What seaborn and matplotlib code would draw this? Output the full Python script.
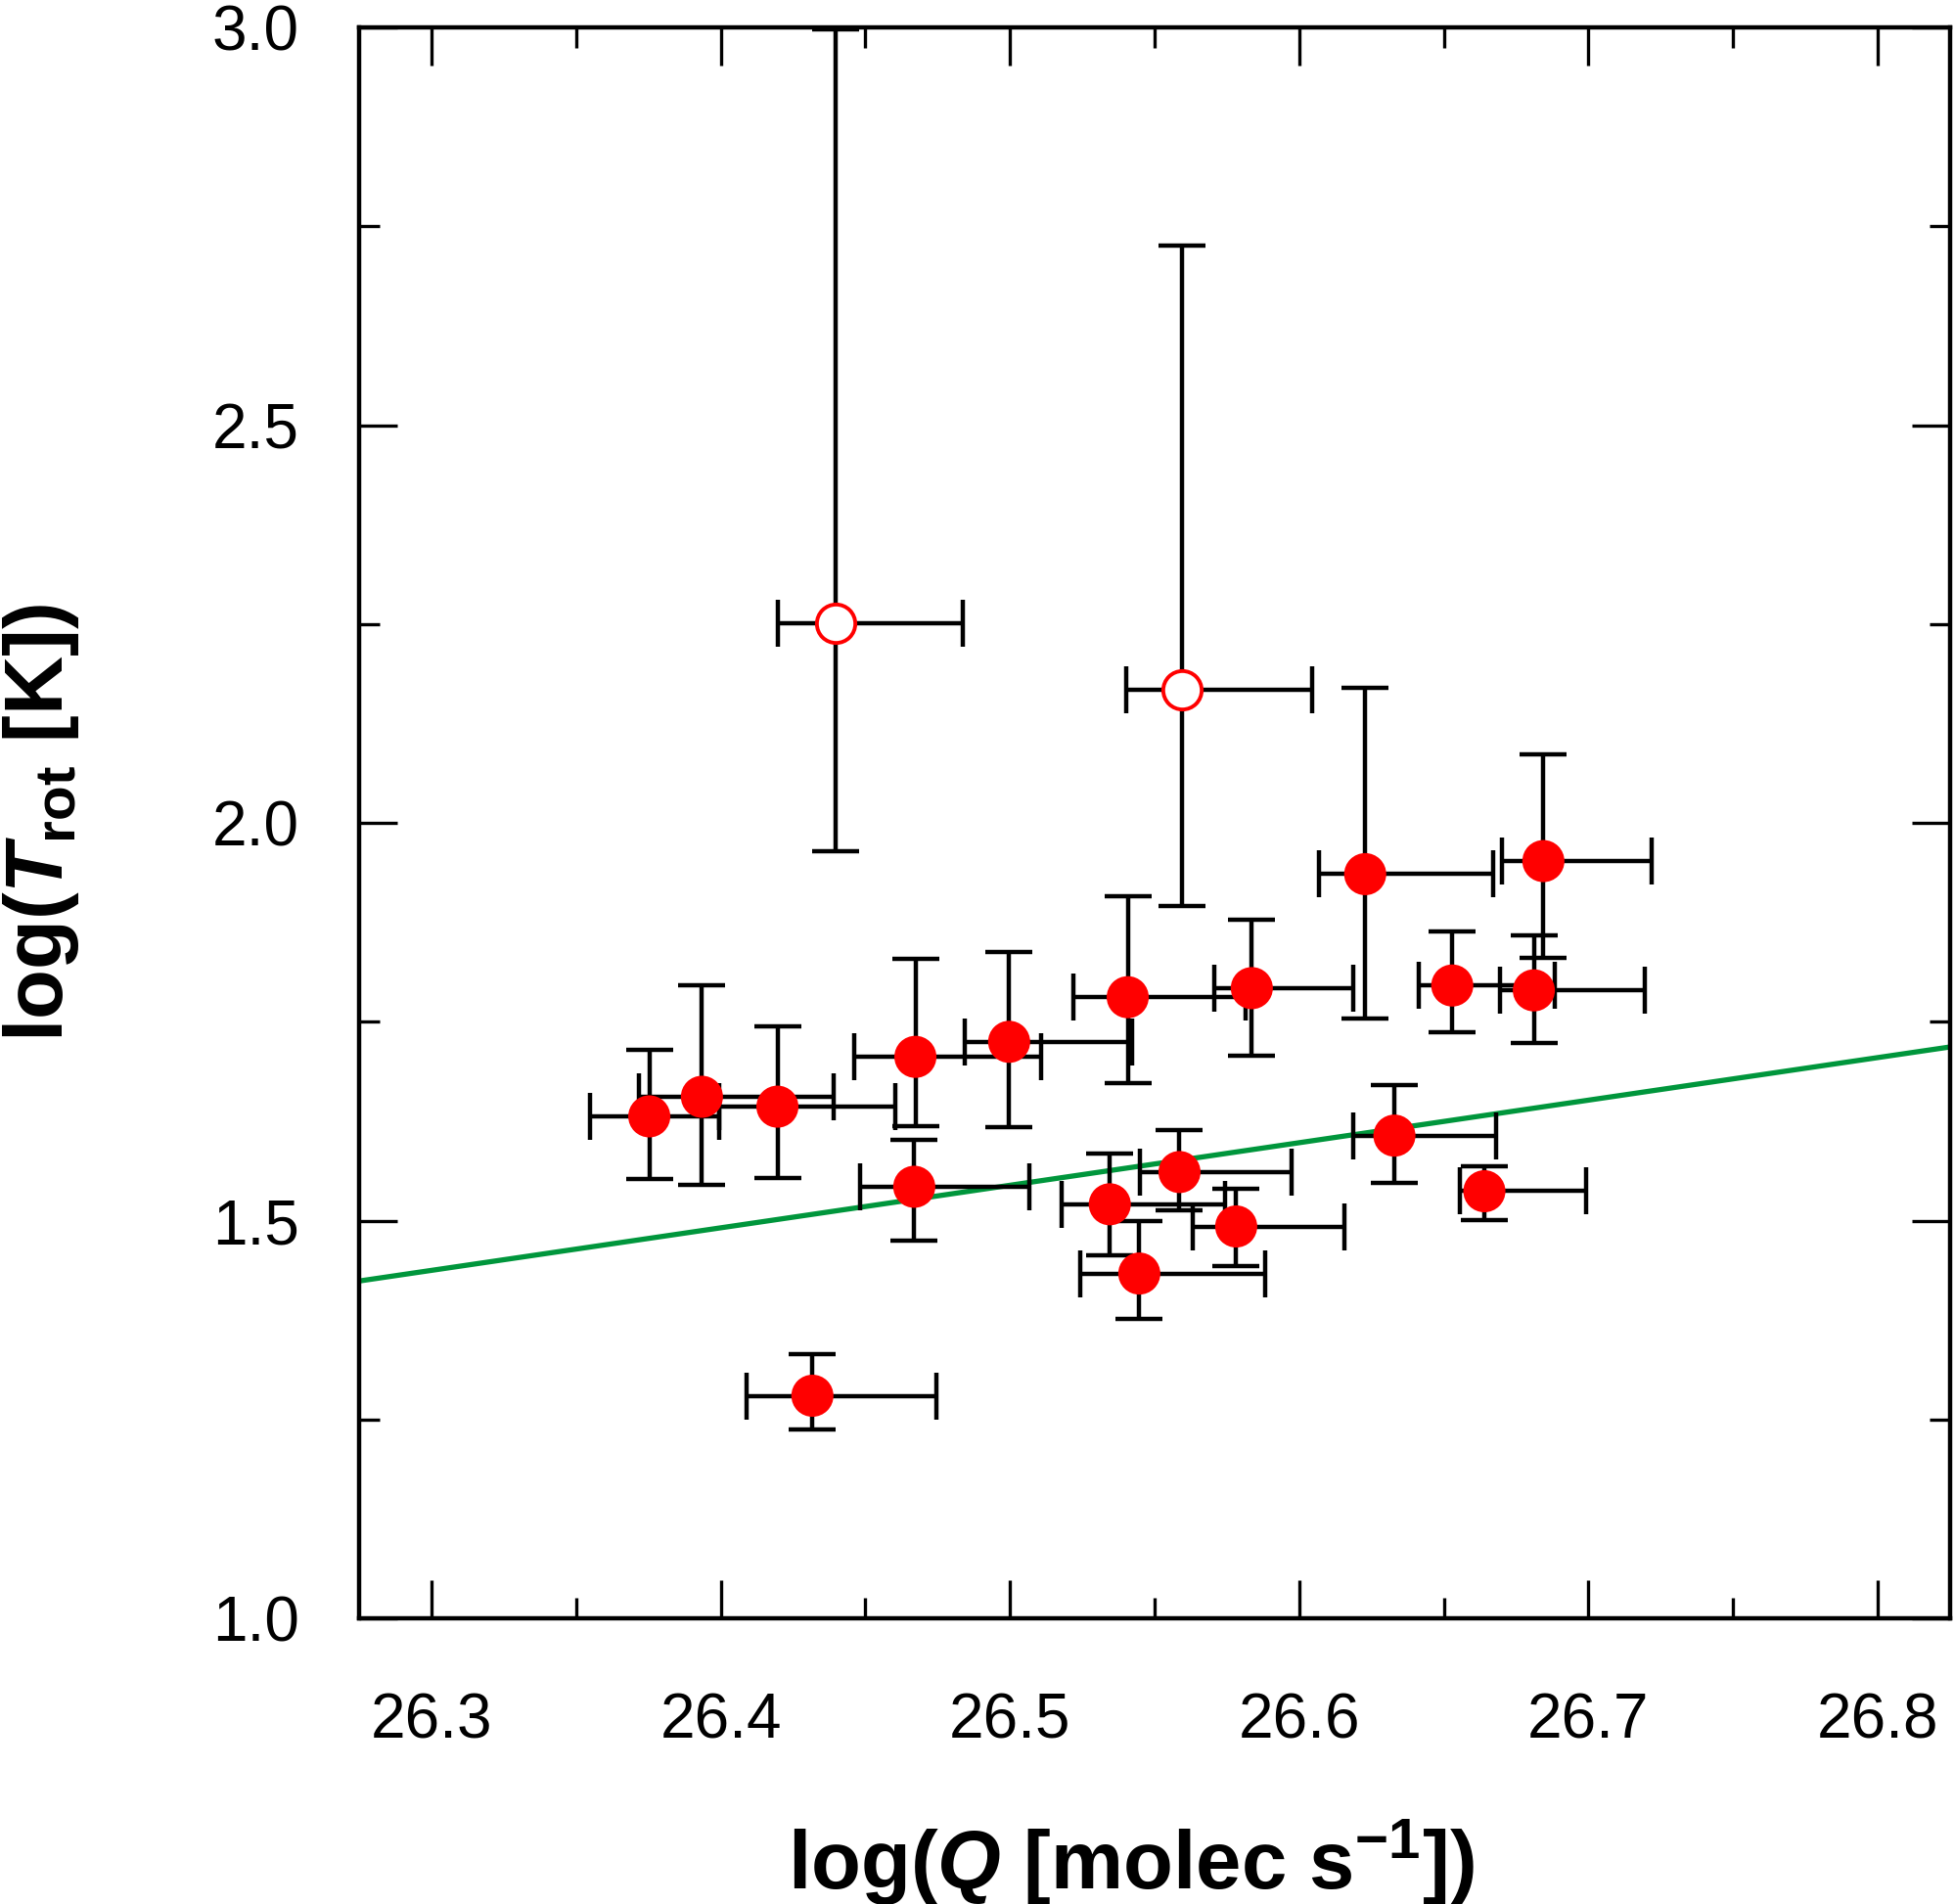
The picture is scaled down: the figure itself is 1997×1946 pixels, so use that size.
import numpy as np
import pandas as pd
import matplotlib
matplotlib.use("Agg")
import matplotlib.pyplot as plt
from matplotlib.ticker import MultipleLocator
import seaborn as sns

# ---- data ----
x_filled = [26.6228, 26.6844, 26.6529, 26.6811, 26.5836, 26.5407, 26.4997, 26.4673, 26.4196, 26.3935,
            26.3753, 26.4669, 26.5345, 26.5586, 26.5782, 26.5447, 26.6329, 26.6640, 26.4317]
x_filled_lo = [26.6069, 26.6702, 26.6414, 26.6693, 26.5705, 26.5218, 26.4845, 26.4463, 26.3995, 26.3716,
               26.3547, 26.4483, 26.5177, 26.5450, 26.5633, 26.5244, 26.6186, 26.6554, 26.4091]
x_filled_hi = [26.6670, 26.7219, 26.6882, 26.7196, 26.6188, 26.5816, 26.5421, 26.5106, 26.4602, 26.4392,
               26.3993, 26.5068, 26.5745, 26.5973, 26.6157, 26.5883, 26.6681, 26.6992, 26.4747]
y_filled = [1.9356, 1.9520, 1.7956, 1.7895, 1.7923, 1.7809, 1.7248, 1.7059, 1.6433, 1.6557,
            1.6311, 1.5426, 1.5206, 1.5611, 1.4927, 1.4335, 1.6069, 1.5370, 1.2799]
y_filled_lo = [1.7539, 1.8303, 1.7367, 1.7231, 1.7073, 1.6729, 1.6175, 1.6188, 1.5537, 1.5451,
               1.5529, 1.4752, 1.4567, 1.5124, 1.4433, 1.3761, 1.5479, 1.5009, 1.2369]
y_filled_hi = [2.1704, 2.0860, 1.8632, 1.8590, 1.8788, 1.9077, 1.8374, 1.8295, 1.7440, 1.7956,
               1.7146, 1.6016, 1.5845, 1.6139, 1.5403, 1.4996, 1.6708, 1.5684, 1.3327]

x_open = [26.4398, 26.5595]
x_open_lo = [26.4198, 26.5401]
x_open_hi = [26.4838, 26.6046]
y_open = [2.2511, 2.1668]
y_open_lo = [1.9650, 1.8952]
y_open_hi = [2.9970, 2.7256]

fit_slope = 0.535
fit_intercept = -12.633

xlim = (26.275, 26.825)
ylim = (1.0, 3.0)

# ---- style ----
sns.set_theme(style="ticks")
plt.rcParams["font.family"] = ["Liberation Sans", "DejaVu Sans"]
plt.rcParams["mathtext.fontset"] = "custom"
plt.rcParams["mathtext.rm"] = "Liberation Sans:bold"
plt.rcParams["mathtext.bf"] = "Liberation Sans:bold"
plt.rcParams["mathtext.it"] = "Liberation Sans:bold:italic"
plt.rcParams["axes.unicode_minus"] = True
plt.rcParams["text.color"] = "black"
plt.rcParams["axes.labelcolor"] = "black"
plt.rcParams["xtick.color"] = "black"
plt.rcParams["ytick.color"] = "black"

fig = plt.figure(figsize=(19.97, 19.46), dpi=100)
ax = fig.add_axes([0.1838, 0.150, 0.998 - 0.1838, 0.9856 - 0.150])

df_f = pd.DataFrame({"x": x_filled, "y": y_filled, "xlo": x_filled_lo, "xhi": x_filled_hi,
                     "ylo": y_filled_lo, "yhi": y_filled_hi})
df_o = pd.DataFrame({"x": x_open, "y": y_open, "xlo": x_open_lo, "xhi": x_open_hi,
                     "ylo": y_open_lo, "yhi": y_open_hi})

# fit line
xs = np.array(xlim)
line_df = pd.DataFrame({"x": xs, "y": fit_intercept + fit_slope * xs})
sns.lineplot(data=line_df, x="x", y="y", ax=ax, color="#00963C", linewidth=3.8, zorder=2)

# error bars
for d in (df_f, df_o):
    ax.errorbar(d["x"], d["y"],
                xerr=[d["x"] - d["xlo"], d["xhi"] - d["x"]],
                yerr=[d["y"] - d["ylo"], d["yhi"] - d["y"]],
                fmt="none", ecolor="black", elinewidth=3.2, capsize=17, capthick=3.2, zorder=3)

# points
sns.scatterplot(data=df_f, x="x", y="y", ax=ax, s=960, color="#FF0000", edgecolor="none",
                linewidth=0, zorder=5)
sns.scatterplot(data=df_o, x="x", y="y", ax=ax, s=800, facecolor="white", edgecolor="#FF0000",
                linewidth=2.8, zorder=5)

ax.set_xlim(*xlim)
ax.set_ylim(*ylim)
ax.xaxis.set_minor_locator(MultipleLocator(0.05))
ax.yaxis.set_minor_locator(MultipleLocator(0.25))
ax.set_xticks(np.arange(26.3, 26.81, 0.1))
ax.set_xticklabels([f"{v:.1f}" for v in np.arange(26.3, 26.81, 0.1)])
ax.set_yticks(np.arange(1.0, 3.01, 0.5))
ax.set_yticklabels([f"{v:.1f}" for v in np.arange(1.0, 3.01, 0.5)])

ax.tick_params(which="both", direction="in", top=True, right=True, colors="black")
ax.tick_params(which="major", length=28, width=2.4)
ax.tick_params(which="minor", length=15, width=2.4)
ax.tick_params(axis="x", which="major", labelsize=46, pad=54)
ax.tick_params(axis="y", which="major", labelsize=46, pad=44)

for sp in ax.spines.values():
    sp.set_visible(True)
    sp.set_linewidth(3.2)
    sp.set_color("black")

ax.set_xlabel(r"log($Q$ [molec s$^{-1}$])", fontsize=60, fontweight="bold", color="black")
ax.set_ylabel(r"log($T_{\mathrm{rot}}$ [K])", fontsize=60, fontweight="bold", color="black")
ax.xaxis.set_label_coords(0.485, -0.125)
ax.yaxis.set_label_coords(-0.175, 0.5)

fig.savefig("out.png", dpi=100)
